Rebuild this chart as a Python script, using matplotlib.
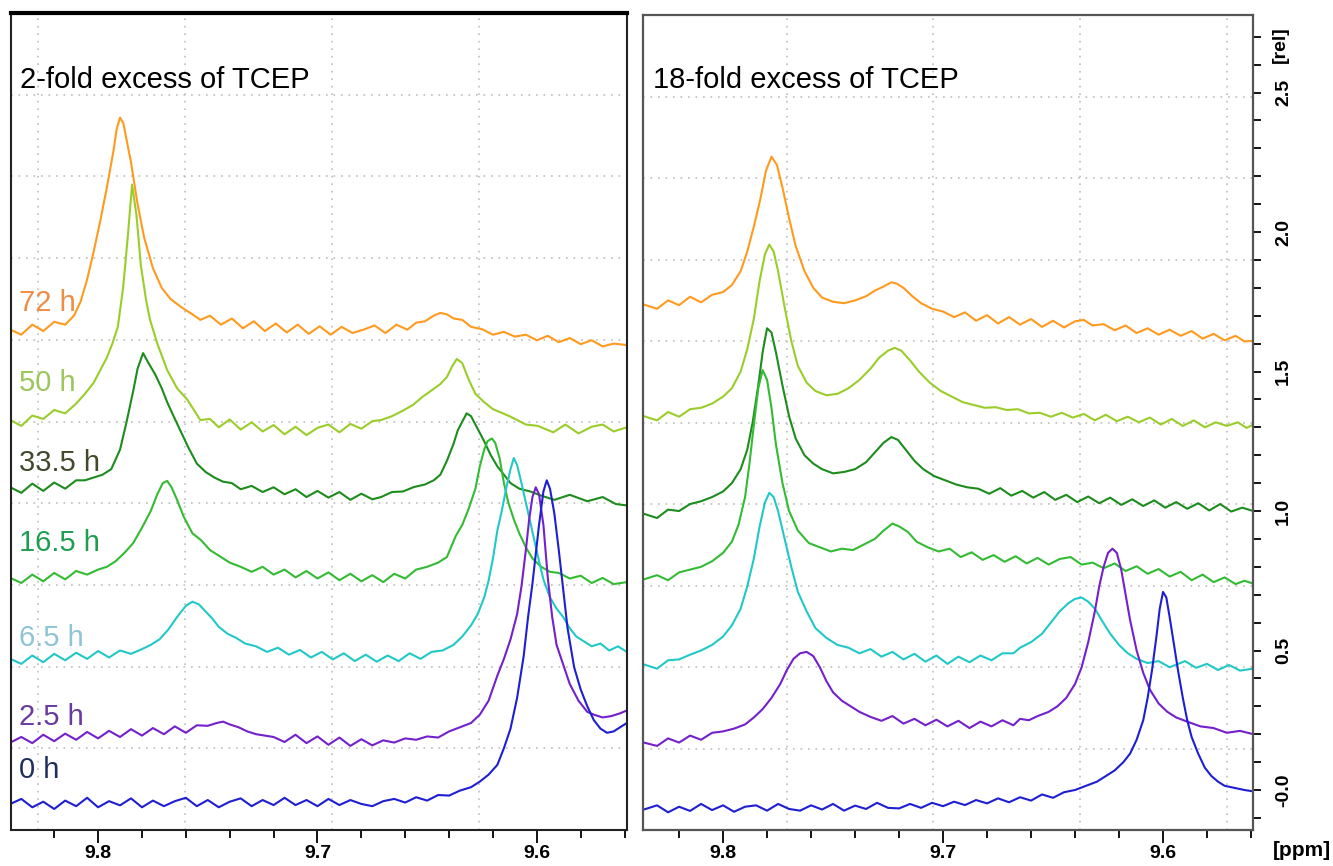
import matplotlib.pyplot as plt
from matplotlib.ticker import MultipleLocator

plt.rcParams['font.family'] = ['Liberation Sans', 'DejaVu Sans']

# ---------------- data ----------------
labels = ['72 h', '50 h', '33.5 h', '16.5 h', '6.5 h', '2.5 h', '0 h']
line_colors = ['#FF9A1F', '#9ACD2A', '#1C8C1C', '#33BB33', '#22C8C8', '#7420CC', '#1E1ED2']
label_colors = ['#F08C46', '#9CC65A', '#414B2C', '#1E9E50', '#8FC4D4', '#6A3A9E', '#1F2E5C']
label_ypos = [303, 383, 463, 543, 638, 717, 770]   # pixel rows of the "xx h" labels

# left panel: 2-fold excess
L72_x = [9.840, 9.835, 9.830, 9.825, 9.820, 9.815, 9.811, 9.808, 9.805, 9.802, 9.799, 9.796, 9.793, 9.7915, 9.790,
         9.7885, 9.787, 9.785, 9.782, 9.779, 9.775, 9.771, 9.767, 9.762, 9.757, 9.7534, 9.749, 9.744, 9.739, 9.734,
         9.729, 9.724, 9.719, 9.714, 9.709, 9.704, 9.699, 9.694, 9.689, 9.684, 9.679, 9.674, 9.669, 9.664, 9.659,
         9.655, 9.651, 9.647, 9.644, 9.641, 9.638, 9.634, 9.630, 9.625, 9.620, 9.615, 9.610, 9.605, 9.600, 9.595,
         9.590, 9.585, 9.580, 9.575, 9.570, 9.565, 9.559]
L72_y = [1.65, 1.632, 1.668, 1.645, 1.678, 1.668, 1.70, 1.75, 1.83, 1.93, 2.04, 2.16, 2.29, 2.37, 2.41,
         2.39, 2.33, 2.25, 2.10, 1.98, 1.87, 1.80, 1.76, 1.73, 1.705, 1.685, 1.70, 1.668, 1.69, 1.655,
         1.68, 1.645, 1.672, 1.64, 1.668, 1.635, 1.662, 1.632, 1.66, 1.638, 1.65, 1.665, 1.638, 1.668, 1.65,
         1.675, 1.68, 1.70, 1.71, 1.705, 1.69, 1.685, 1.66, 1.652, 1.632, 1.642, 1.625, 1.632, 1.612, 1.628,
         1.605, 1.62, 1.598, 1.612, 1.59, 1.60, 1.595]

L50_x = [9.840, 9.835, 9.830, 9.825, 9.820, 9.815, 9.810, 9.806, 9.802, 9.799, 9.796, 9.7935, 9.791, 9.7886, 9.7865,
         9.7845, 9.7825, 9.7805, 9.778, 9.7763, 9.773, 9.7685, 9.764, 9.7594, 9.7534, 9.749, 9.745, 9.740, 9.735,
         9.730, 9.725, 9.720, 9.715, 9.710, 9.705, 9.700, 9.695, 9.690, 9.685, 9.680, 9.675, 9.671, 9.666, 9.661,
         9.6565, 9.652, 9.6475, 9.644, 9.641, 9.6385, 9.6365, 9.634, 9.631, 9.628, 9.624, 9.620, 9.6125, 9.605,
         9.5995, 9.5925, 9.587, 9.581, 9.575, 9.570, 9.565, 9.559]
L50_y = [1.326, 1.305, 1.342, 1.33, 1.362, 1.35, 1.385, 1.42, 1.46, 1.505, 1.55, 1.60, 1.66, 1.80, 1.98,
         2.17, 2.06, 1.88, 1.75, 1.685, 1.60, 1.505, 1.44, 1.40, 1.326, 1.33, 1.30, 1.328, 1.292,
         1.318, 1.285, 1.308, 1.275, 1.302, 1.272, 1.298, 1.31, 1.282, 1.312, 1.295, 1.322, 1.326, 1.34, 1.36,
         1.38, 1.41, 1.435, 1.455, 1.48, 1.52, 1.545, 1.53, 1.47, 1.42, 1.39, 1.365, 1.34, 1.31,
         1.305, 1.282, 1.31, 1.278, 1.302, 1.31, 1.285, 1.30]

L33_x = [9.840, 9.835, 9.830, 9.825, 9.820, 9.815, 9.810, 9.806, 9.802, 9.798, 9.794, 9.790, 9.787, 9.784, 9.782,
         9.7795, 9.777, 9.774, 9.771, 9.7685, 9.765, 9.762, 9.759, 9.755, 9.751, 9.747, 9.743, 9.739, 9.735, 9.730,
         9.725, 9.720, 9.715, 9.710, 9.705, 9.700, 9.695, 9.690, 9.685, 9.680, 9.675, 9.671, 9.666, 9.661, 9.656,
         9.651, 9.647, 9.644, 9.641, 9.638, 9.636, 9.634, 9.632, 9.630, 9.628, 9.626, 9.624, 9.621, 9.618, 9.615,
         9.612, 9.608, 9.603, 9.598, 9.592, 9.585, 9.577, 9.570, 9.564, 9.559]
L33_y = [1.085, 1.065, 1.098, 1.072, 1.102, 1.08, 1.11, 1.11, 1.12, 1.13, 1.15, 1.22, 1.32, 1.43, 1.51,
         1.566, 1.53, 1.49, 1.44, 1.39, 1.33, 1.28, 1.23, 1.17, 1.14, 1.12, 1.105, 1.10, 1.078, 1.09,
         1.068, 1.085, 1.06, 1.078, 1.05, 1.072, 1.048, 1.068, 1.04, 1.062, 1.042, 1.05, 1.068, 1.07, 1.086,
         1.095, 1.11, 1.13, 1.18, 1.24, 1.29, 1.32, 1.35, 1.34, 1.31, 1.28, 1.25, 1.20, 1.16, 1.13,
         1.10, 1.08, 1.07, 1.055, 1.04, 1.058, 1.035, 1.05, 1.025, 1.02]

L16_x = [9.840, 9.835, 9.830, 9.825, 9.820, 9.815, 9.810, 9.805, 9.800, 9.796, 9.792, 9.788, 9.784, 9.780, 9.776,
         9.773, 9.7705, 9.7685, 9.7665, 9.764, 9.761, 9.757, 9.753, 9.749, 9.745, 9.740, 9.735, 9.730, 9.725,
         9.720, 9.715, 9.710, 9.705, 9.700, 9.695, 9.690, 9.685, 9.680, 9.675, 9.670, 9.665, 9.660, 9.655, 9.650,
         9.645, 9.641, 9.637, 9.634, 9.631, 9.628, 9.626, 9.624, 9.6225, 9.6205, 9.619, 9.617, 9.615, 9.613,
         9.6105, 9.608, 9.605, 9.602, 9.598, 9.594, 9.590, 9.585, 9.580, 9.575, 9.570, 9.565, 9.559]
L16_y = [0.76, 0.742, 0.772, 0.748, 0.778, 0.755, 0.785, 0.772, 0.79, 0.80, 0.82, 0.85, 0.885, 0.94, 1.00,
         1.06, 1.10, 1.108, 1.085, 1.04, 0.98, 0.92, 0.895, 0.86, 0.84, 0.815, 0.80, 0.782, 0.80,
         0.772, 0.79, 0.762, 0.785, 0.758, 0.78, 0.752, 0.775, 0.748, 0.77, 0.745, 0.775, 0.758, 0.79, 0.80,
         0.815, 0.835, 0.91, 0.95, 1.01, 1.08, 1.16, 1.22, 1.25, 1.26, 1.245, 1.19, 1.10, 1.03,
         0.97, 0.92, 0.87, 0.83, 0.80, 0.782, 0.778, 0.758, 0.768, 0.742, 0.76, 0.738, 0.745]

L6_x = [9.840, 9.835, 9.830, 9.825, 9.820, 9.815, 9.810, 9.805, 9.800, 9.795, 9.790, 9.785, 9.780, 9.776, 9.772,
        9.768, 9.764, 9.760, 9.757, 9.754, 9.751, 9.748, 9.745, 9.741, 9.737, 9.733, 9.728, 9.723, 9.718, 9.713,
        9.708, 9.703, 9.698, 9.693, 9.688, 9.683, 9.678, 9.673, 9.668, 9.663, 9.658, 9.653, 9.648, 9.643, 9.638,
        9.634, 9.630, 9.627, 9.624, 9.622, 9.620, 9.618, 9.616, 9.614, 9.612, 9.6105, 9.609, 9.607, 9.605, 9.603,
        9.601, 9.599, 9.597, 9.594, 9.591, 9.588, 9.585, 9.582, 9.579, 9.575, 9.571, 9.567, 9.563, 9.559]
L6_y = [0.47, 0.452, 0.482, 0.458, 0.488, 0.465, 0.492, 0.47, 0.498, 0.475, 0.50, 0.488, 0.505, 0.52, 0.54,
        0.575, 0.62, 0.66, 0.675, 0.665, 0.64, 0.615, 0.585, 0.56, 0.545, 0.525, 0.515, 0.495, 0.51, 0.485,
        0.502, 0.475, 0.495, 0.468, 0.49, 0.462, 0.485, 0.46, 0.482, 0.462, 0.49, 0.47, 0.495, 0.50, 0.52,
        0.55, 0.59, 0.63, 0.69, 0.75, 0.83, 0.93, 1.00, 1.08, 1.15, 1.19, 1.165, 1.10, 1.03, 0.96,
        0.89, 0.82, 0.755, 0.69, 0.65, 0.62, 0.58, 0.55, 0.535, 0.515, 0.525, 0.50, 0.515, 0.495]

L2_x = [9.840, 9.835, 9.830, 9.825, 9.820, 9.815, 9.810, 9.805, 9.800, 9.795, 9.790, 9.785, 9.780, 9.775, 9.770,
        9.765, 9.760, 9.755, 9.750, 9.746, 9.743, 9.740, 9.736, 9.732, 9.728, 9.724, 9.720, 9.715, 9.710, 9.705,
        9.700, 9.695, 9.690, 9.685, 9.680, 9.675, 9.670, 9.665, 9.660, 9.655, 9.650, 9.645, 9.640, 9.635, 9.630,
        9.626, 9.622, 9.618, 9.615, 9.612, 9.609, 9.607, 9.605, 9.6035, 9.602, 9.6005, 9.599, 9.597, 9.595, 9.593,
        9.591, 9.588, 9.585, 9.581, 9.577, 9.574, 9.570, 9.566, 9.562, 9.559]
L2_y = [0.17, 0.19, 0.168, 0.198, 0.175, 0.202, 0.18, 0.208, 0.185, 0.212, 0.19, 0.218, 0.195, 0.222, 0.20,
        0.228, 0.205, 0.232, 0.23, 0.24, 0.245, 0.235, 0.225, 0.21, 0.20, 0.195, 0.19, 0.172, 0.198, 0.168,
        0.192, 0.162, 0.188, 0.158, 0.182, 0.16, 0.178, 0.17, 0.185, 0.18, 0.192, 0.188, 0.21, 0.225, 0.24,
        0.27, 0.32, 0.41, 0.47, 0.54, 0.63, 0.73, 0.86, 0.97, 1.05, 1.085, 1.06, 0.95, 0.76, 0.62,
        0.52, 0.45, 0.38, 0.32, 0.28, 0.27, 0.26, 0.265, 0.275, 0.285]

L0_x = [9.840, 9.835, 9.830, 9.825, 9.820, 9.815, 9.810, 9.805, 9.800, 9.795, 9.790, 9.785, 9.780, 9.775, 9.770,
        9.765, 9.760, 9.755, 9.750, 9.745, 9.740, 9.735, 9.730, 9.725, 9.720, 9.715, 9.710, 9.705, 9.700, 9.695,
        9.690, 9.685, 9.680, 9.675, 9.670, 9.665, 9.660, 9.655, 9.650, 9.645, 9.640, 9.635, 9.630, 9.626, 9.622,
        9.618, 9.615, 9.612, 9.609, 9.606, 9.604, 9.602, 9.601, 9.599, 9.597, 9.5955, 9.594, 9.592, 9.590, 9.588,
        9.586, 9.583, 9.580, 9.577, 9.574, 9.571, 9.568, 9.565, 9.562, 9.559]
L0_y = [-0.05, -0.032, -0.062, -0.042, -0.068, -0.038, -0.058, -0.028, -0.062, -0.04, -0.055, -0.03, -0.062, -0.038, -0.058,
        -0.04, -0.028, -0.058, -0.036, -0.062, -0.042, -0.03, -0.058, -0.036, -0.054, -0.028, -0.054, -0.036, -0.058, -0.032,
        -0.054, -0.036, -0.05, -0.058, -0.04, -0.032, -0.045, -0.026, -0.038, -0.018, -0.02, -0.002, 0.01, 0.03, 0.055,
        0.09, 0.15, 0.22, 0.33, 0.48, 0.62, 0.74, 0.81, 0.95, 1.07, 1.11, 1.08, 0.99, 0.86, 0.72,
        0.58, 0.44, 0.36, 0.30, 0.25, 0.22, 0.205, 0.21, 0.225, 0.24]

# right panel: 18-fold excess
R72_x = [9.836, 9.830, 9.825, 9.820, 9.815, 9.810, 9.805, 9.800, 9.796, 9.792, 9.789, 9.786, 9.783, 9.7805, 9.778,
         9.7755, 9.773, 9.770, 9.767, 9.763, 9.759, 9.755, 9.750, 9.745, 9.740, 9.735, 9.731, 9.727, 9.7235, 9.721,
         9.718, 9.714, 9.710, 9.705, 9.700, 9.695, 9.690, 9.685, 9.680, 9.675, 9.670, 9.665, 9.660, 9.655, 9.650,
         9.645, 9.640, 9.636, 9.632, 9.627, 9.622, 9.617, 9.612, 9.607, 9.602, 9.597, 9.592, 9.587, 9.582, 9.577,
         9.572, 9.567, 9.563, 9.559]
R72_y = [1.74, 1.725, 1.755, 1.738, 1.768, 1.748, 1.775, 1.785, 1.81, 1.86, 1.93, 2.02, 2.12, 2.22, 2.27,
         2.24, 2.16, 2.05, 1.95, 1.86, 1.80, 1.765, 1.75, 1.745, 1.755, 1.77, 1.79, 1.805, 1.82, 1.815,
         1.80, 1.77, 1.745, 1.725, 1.715, 1.695, 1.712, 1.682, 1.702, 1.672, 1.695, 1.668, 1.688, 1.66, 1.682,
         1.658, 1.68, 1.685, 1.665, 1.67, 1.648, 1.665, 1.638, 1.655, 1.632, 1.65, 1.628, 1.645, 1.618, 1.635,
         1.612, 1.628, 1.608, 1.61]

R50_x = [9.836, 9.830, 9.825, 9.820, 9.815, 9.810, 9.805, 9.800, 9.796, 9.792, 9.789, 9.786, 9.7835, 9.781, 9.779,
         9.777, 9.775, 9.772, 9.769, 9.766, 9.762, 9.758, 9.753, 9.748, 9.743, 9.738, 9.733, 9.729, 9.725, 9.722,
         9.719, 9.715, 9.711, 9.706, 9.701, 9.696, 9.691, 9.686, 9.681, 9.676, 9.671, 9.666, 9.661, 9.656, 9.651,
         9.646, 9.641, 9.636, 9.631, 9.626, 9.621, 9.616, 9.611, 9.606, 9.601, 9.596, 9.591, 9.586, 9.581, 9.576,
         9.571, 9.566, 9.562, 9.559]
R50_y = [1.34, 1.325, 1.355, 1.338, 1.365, 1.37, 1.385, 1.41, 1.44, 1.50, 1.58, 1.69, 1.82, 1.92, 1.955,
         1.93, 1.86, 1.73, 1.61, 1.52, 1.46, 1.43, 1.415, 1.42, 1.44, 1.47, 1.51, 1.55, 1.575, 1.585,
         1.575, 1.54, 1.50, 1.46, 1.43, 1.41, 1.39, 1.38, 1.37, 1.372, 1.362, 1.365, 1.35, 1.352, 1.338,
         1.352, 1.335, 1.348, 1.325, 1.345, 1.322, 1.338, 1.318, 1.335, 1.31, 1.33, 1.305, 1.325, 1.30, 1.318,
         1.305, 1.318, 1.298, 1.31]

R33_x = [9.836, 9.830, 9.825, 9.820, 9.815, 9.810, 9.805, 9.800, 9.796, 9.792, 9.789, 9.7865, 9.784, 9.782, 9.780,
         9.778, 9.776, 9.773, 9.770, 9.767, 9.763, 9.759, 9.755, 9.750, 9.745, 9.740, 9.735, 9.731, 9.727, 9.7235,
         9.7205, 9.717, 9.713, 9.709, 9.704, 9.699, 9.694, 9.689, 9.684, 9.679, 9.674, 9.669, 9.664, 9.659, 9.654,
         9.649, 9.644, 9.639, 9.634, 9.629, 9.624, 9.619, 9.614, 9.609, 9.604, 9.599, 9.594, 9.589, 9.584, 9.579,
         9.574, 9.569, 9.564, 9.559]
R33_y = [0.99, 0.975, 1.005, 1.00, 1.025, 1.035, 1.05, 1.07, 1.10, 1.15, 1.22, 1.32, 1.45, 1.57, 1.655,
         1.64, 1.57, 1.45, 1.34, 1.26, 1.20, 1.17, 1.15, 1.135, 1.14, 1.15, 1.175, 1.21, 1.245, 1.265,
         1.255, 1.22, 1.18, 1.15, 1.125, 1.11, 1.095, 1.085, 1.08, 1.062, 1.082, 1.055, 1.072, 1.048, 1.068,
         1.04, 1.058, 1.032, 1.052, 1.028, 1.048, 1.022, 1.042, 1.018, 1.038, 1.012, 1.032, 1.008, 1.028, 1.002,
         1.025, 0.998, 1.012, 1.00]

R16_x = [9.836, 9.830, 9.825, 9.820, 9.815, 9.810, 9.805, 9.800, 9.796, 9.793, 9.790, 9.788, 9.786, 9.784, 9.782,
         9.780, 9.778, 9.776, 9.773, 9.770, 9.766, 9.761, 9.756, 9.751, 9.746, 9.741, 9.736, 9.731, 9.727, 9.723,
         9.720, 9.716, 9.712, 9.707, 9.702, 9.697, 9.692, 9.687, 9.682, 9.677, 9.672, 9.667, 9.662, 9.657, 9.652,
         9.647, 9.642, 9.637, 9.632, 9.627, 9.622, 9.617, 9.612, 9.607, 9.602, 9.597, 9.592, 9.587, 9.582, 9.577,
         9.572, 9.567, 9.563, 9.559]
R16_y = [0.755, 0.77, 0.752, 0.78, 0.79, 0.80, 0.82, 0.85, 0.89, 0.95, 1.05, 1.17, 1.31, 1.44, 1.505,
         1.47, 1.37, 1.24, 1.10, 1.00, 0.93, 0.885, 0.87, 0.855, 0.865, 0.86, 0.88, 0.90, 0.93, 0.955,
         0.945, 0.925, 0.89, 0.87, 0.855, 0.865, 0.835, 0.852, 0.825, 0.842, 0.818, 0.838, 0.812, 0.832, 0.808,
         0.828, 0.835, 0.808, 0.815, 0.795, 0.812, 0.785, 0.802, 0.775, 0.792, 0.765, 0.782, 0.752, 0.772, 0.745,
         0.762, 0.738, 0.75, 0.74]

R6_x = [9.836, 9.830, 9.825, 9.820, 9.815, 9.810, 9.805, 9.800, 9.796, 9.792, 9.789, 9.786, 9.7835, 9.781, 9.779,
        9.777, 9.775, 9.772, 9.769, 9.766, 9.762, 9.758, 9.753, 9.748, 9.743, 9.738, 9.733, 9.728, 9.723, 9.718,
        9.713, 9.708, 9.703, 9.698, 9.693, 9.688, 9.683, 9.678, 9.673, 9.668, 9.665, 9.660, 9.655, 9.651, 9.647,
        9.643, 9.640, 9.637, 9.634, 9.631, 9.628, 9.624, 9.620, 9.616, 9.612, 9.607, 9.602, 9.597, 9.590, 9.585,
        9.580, 9.575, 9.570, 9.565, 9.559]
R6_y = [0.45, 0.435, 0.465, 0.468, 0.485, 0.50, 0.52, 0.55, 0.59, 0.65, 0.73, 0.83, 0.94, 1.03, 1.065,
        1.05, 1.00, 0.90, 0.80, 0.71, 0.64, 0.58, 0.545, 0.52, 0.51, 0.49, 0.505, 0.478, 0.495, 0.468,
        0.488, 0.46, 0.482, 0.452, 0.478, 0.458, 0.482, 0.465, 0.49, 0.49, 0.51, 0.53, 0.56, 0.60, 0.64,
        0.67, 0.685, 0.69, 0.675, 0.65, 0.61, 0.56, 0.52, 0.49, 0.47, 0.455, 0.462, 0.44, 0.462, 0.438,
        0.452, 0.43, 0.448, 0.428, 0.435]

R2_x = [9.836, 9.830, 9.825, 9.820, 9.815, 9.810, 9.805, 9.800, 9.795, 9.790, 9.786, 9.782, 9.778, 9.774, 9.771,
        9.768, 9.765, 9.762, 9.759, 9.756, 9.753, 9.750, 9.746, 9.742, 9.738, 9.733, 9.728, 9.723, 9.718, 9.713,
        9.708, 9.703, 9.698, 9.693, 9.688, 9.683, 9.678, 9.673, 9.668, 9.665, 9.661, 9.657, 9.652, 9.648, 9.644,
        9.640, 9.637, 9.634, 9.631, 9.629, 9.627, 9.625, 9.623, 9.621, 9.619, 9.617, 9.615, 9.612, 9.609, 9.606,
        9.602, 9.598, 9.594, 9.589, 9.583, 9.577, 9.571, 9.565, 9.559]
R2_y = [0.17, 0.158, 0.185, 0.17, 0.195, 0.18, 0.205, 0.21, 0.22, 0.235, 0.26, 0.29, 0.33, 0.38, 0.43,
        0.47, 0.49, 0.495, 0.48, 0.44, 0.39, 0.35, 0.32, 0.30, 0.28, 0.262, 0.248, 0.265, 0.238, 0.255,
        0.232, 0.252, 0.228, 0.248, 0.222, 0.245, 0.228, 0.25, 0.232, 0.255, 0.25, 0.265, 0.28, 0.30, 0.33,
        0.38, 0.44, 0.53, 0.64, 0.73, 0.80, 0.85, 0.865, 0.85, 0.79, 0.70, 0.61, 0.50, 0.42, 0.36,
        0.31, 0.28, 0.26, 0.245, 0.228, 0.222, 0.205, 0.212, 0.20]

R0_x = [9.836, 9.830, 9.825, 9.820, 9.815, 9.810, 9.805, 9.800, 9.795, 9.790, 9.785, 9.780, 9.775, 9.770, 9.765,
        9.760, 9.755, 9.750, 9.745, 9.740, 9.735, 9.730, 9.725, 9.720, 9.715, 9.710, 9.705, 9.700, 9.695, 9.690,
        9.685, 9.680, 9.675, 9.670, 9.665, 9.660, 9.655, 9.650, 9.645, 9.640, 9.635, 9.630, 9.626, 9.622, 9.618,
        9.615, 9.612, 9.609, 9.607, 9.605, 9.603, 9.6015, 9.600, 9.5985, 9.597, 9.595, 9.593, 9.591, 9.589, 9.587,
        9.584, 9.581, 9.578, 9.575, 9.572, 9.569, 9.566, 9.563, 9.559]
R0_y = [-0.07, -0.055, -0.08, -0.06, -0.075, -0.05, -0.072, -0.055, -0.078, -0.06, -0.055, -0.074, -0.05, -0.068, -0.074,
        -0.055, -0.07, -0.05, -0.074, -0.056, -0.068, -0.046, -0.064, -0.066, -0.05, -0.064, -0.046, -0.058, -0.042, -0.054,
        -0.036, -0.048, -0.03, -0.044, -0.026, -0.038, -0.016, -0.028, -0.008, 0.0, 0.015, 0.03, 0.05, 0.07, 0.10,
        0.13, 0.18, 0.25, 0.33, 0.43, 0.55, 0.65, 0.71, 0.69, 0.62, 0.52, 0.42, 0.33, 0.25, 0.19,
        0.13, 0.08, 0.05, 0.03, 0.015, 0.01, 0.005, 0.0, -0.005]

left_curves = [(L72_x, L72_y), (L50_x, L50_y), (L33_x, L33_y), (L16_x, L16_y),
               (L6_x, L6_y), (L2_x, L2_y), (L0_x, L0_y)]
right_curves = [(R72_x, R72_y), (R50_x, R50_y), (R33_x, R33_y), (R16_x, R16_y),
                (R6_x, R6_y), (R2_x, R2_y), (R0_x, R0_y)]

# grid positions (TopSpin style grid, not on the tick values)
left_vgrid = [9.8274, 9.7603, 9.6932, 9.6265]
right_vgrid = [9.7709, 9.7045, 9.6377, 9.5709]

W, H = 1333, 866
fig = plt.figure(figsize=(W / 100, H / 100), dpi=100)
ax1 = fig.add_axes([11 / W, 36 / H, 616 / W, 817 / H])
ax2 = fig.add_axes([643 / W, 36 / H, 610 / W, 815 / H])

ax1.set_xlim(9.8397, 9.5589)
ax2.set_xlim(9.8364, 9.5591)
ax1.set_ylim(-0.1434, 2.785)
ax2.set_ylim(-0.1434, 2.778)

dot = (0, (1, 3.5))
for ax, vgrid in [(ax1, left_vgrid), (ax2, right_vgrid)]:
    y0, y1 = ax.get_ylim()
    for k in range(1, 10):
        ax.axhline(y0 + (y1 - y0) * k / 10, color='#BDBDBD', lw=1.2, ls=dot, zorder=0)
    for v in vgrid:
        ax.axvline(v, color='#BDBDBD', lw=1.2, ls=dot, zorder=0)

for (x, y), c in zip(left_curves, line_colors):
    ax1.plot(x, y, color=c, lw=1.5)
for (x, y), c in zip(right_curves, line_colors):
    ax2.plot(x, y, color=c, lw=1.5)

ax1.text(0.015, 0.918, '2-fold excess of TCEP', transform=ax1.transAxes, fontsize=21, va='center')
ax2.text(0.016, 0.92, '18-fold excess of TCEP', transform=ax2.transAxes, fontsize=21, va='center')

for lab, c, yp in zip(labels, label_colors, label_ypos):
    ax1.text(0.013, (830 - yp) / 817, lab, transform=ax1.transAxes, fontsize=21, color=c, va='center')

for ax in (ax1, ax2):
    ax.set_xticks([9.8, 9.7, 9.6])
    ax.set_xticklabels(['9.8', '9.7', '9.6'], fontweight='bold', fontsize=14)
    ax.xaxis.set_minor_locator(MultipleLocator(0.02))
    ax.tick_params(axis='x', which='major', direction='out', length=9, width=1.3, pad=2)
    ax.tick_params(axis='x', which='minor', direction='out', length=5.5, width=1.3)

ax1.set_yticks([])
ax2.yaxis.tick_right()
ax2.set_yticks([0, 0.5, 1.0, 1.5, 2.0, 2.5])
ax2.set_yticklabels(['-0.0', '0.5', '1.0', '1.5', '2.0', '2.5'], rotation=90, va='center',
                    fontweight='bold', fontsize=14)
ax2.yaxis.set_minor_locator(MultipleLocator(0.1))
ax2.tick_params(axis='y', which='both', direction='out', length=6, width=1.3, pad=10)

for s in ax1.spines.values():
    s.set_color('#222222')
    s.set_linewidth(1.5)
ax1.spines['top'].set_linewidth(3)
ax1.spines['top'].set_color('black')
for s in ax2.spines.values():
    s.set_color('#555555')
    s.set_linewidth(1.6)

fig.text(1280 / W, 1 - 45 / H, '[rel]', rotation=90, fontweight='bold', fontsize=14, ha='center', va='center')
fig.text(1302 / W, 1 - 851 / H, '[ppm]', fontweight='bold', fontsize=15, ha='center', va='center')

fig.savefig('out.png', dpi=100)
